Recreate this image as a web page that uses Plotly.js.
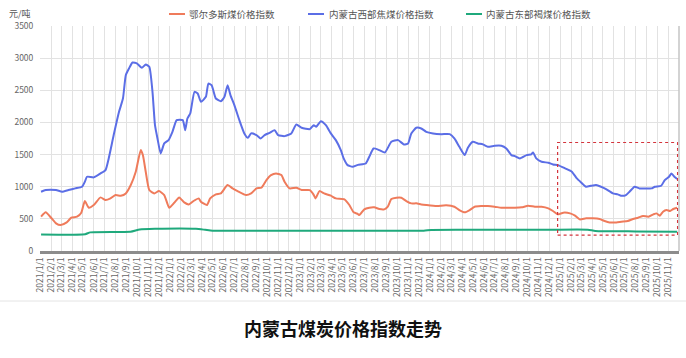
<!DOCTYPE html>
<html>
<head>
<meta charset="utf-8">
<script src="https://cdn.plot.ly/plotly-3.0.1.min.js"></script>
<style>html,body{margin:0;padding:0;background:#fff;}#chart{width:686px;height:358px;}</style>
</head>
<body>
<div id="chart"></div>
<script>
const seriesNames = ['鄂尔多斯煤价格指数', '内蒙古西部焦煤价格指数', '内蒙古东部褐煤价格指数'];
const unitLabel = '元/吨';
const chartTitle = '内蒙古煤炭价格指数走势';

const tickLabels = ['2021/1/1','2021/2/1','2021/3/1','2021/4/1','2021/5/1','2021/6/1','2021/7/1','2021/8/1','2021/9/1','2021/10/1','2021/11/1','2021/12/1',
'2022/1/1','2022/2/1','2022/3/1','2022/4/1','2022/5/1','2022/6/1','2022/7/1','2022/8/1','2022/9/1','2022/10/1','2022/11/1','2022/12/1',
'2023/1/1','2023/2/1','2023/3/1','2023/4/1','2023/5/1','2023/6/1','2023/7/1','2023/8/1','2023/9/1','2023/10/1','2023/11/1','2023/12/1',
'2024/1/1','2024/2/1','2024/3/1','2024/4/1','2024/5/1','2024/6/1','2024/7/1','2024/8/1','2024/9/1','2024/10/1','2024/11/1','2024/12/1',
'2025/1/1','2025/2/1','2025/3/1','2025/4/1','2025/5/1','2025/6/1','2025/7/1','2025/8/1','2025/9/1','2025/10/1','2025/11/1'];

// 内蒙古西部焦煤价格指数
const westDates = ['2021-01-04','2021-01-17','2021-02-15','2021-03-04','2021-03-22','2021-04-10','2021-04-29','2021-05-07','2021-05-13','2021-06-01','2021-06-20','2021-07-04','2021-07-13','2021-07-27','2021-08-11','2021-08-22','2021-08-30','2021-09-08','2021-09-18','2021-10-01','2021-10-14','2021-10-25','2021-11-04','2021-11-13','2021-11-20','2021-11-27','2021-12-06','2021-12-16','2021-12-28',
'2022-01-08','2022-01-20','2022-02-06','2022-02-13','2022-02-19','2022-02-27','2022-03-11','2022-03-20','2022-03-29','2022-04-12','2022-04-19','2022-04-28','2022-05-10','2022-05-24','2022-06-03','2022-06-12','2022-06-20','2022-07-01','2022-07-15','2022-07-29','2022-08-08','2022-08-17','2022-09-01','2022-09-13','2022-09-24','2022-10-08','2022-10-22','2022-11-01','2022-11-19','2022-12-08','2022-12-22',
'2023-01-06','2023-01-29','2023-02-09','2023-02-16','2023-03-01','2023-03-15','2023-03-29','2023-04-12','2023-04-26','2023-05-04','2023-05-15','2023-05-29','2023-06-13','2023-07-05','2023-07-15','2023-07-27','2023-08-12','2023-08-28','2023-09-15','2023-10-04','2023-10-20','2023-11-01','2023-11-10','2023-11-24','2023-12-08','2023-12-22',
'2024-01-10','2024-02-03','2024-02-26','2024-03-10','2024-03-24','2024-04-08','2024-04-17','2024-05-01','2024-05-15','2024-05-29','2024-06-12','2024-07-01','2024-07-20','2024-08-03','2024-08-17','2024-08-27','2024-09-10','2024-09-29','2024-10-12','2024-10-17','2024-10-26','2024-11-10','2024-11-29','2024-12-12','2024-12-26',
'2025-01-15','2025-02-03','2025-02-17','2025-03-01','2025-03-15','2025-03-29','2025-04-12','2025-04-26','2025-05-10','2025-05-29','2025-06-12','2025-06-21','2025-07-05','2025-07-15','2025-07-29','2025-08-12','2025-09-01','2025-09-15','2025-09-24','2025-10-12','2025-10-22','2025-11-03','2025-11-10','2025-11-18','2025-11-26'];
const westValues = [922,948,948,922,948,974,1000,1077,1155,1145,1207,1259,1440,1803,2165,2372,2735,2839,2932,2916,2849,2901,2865,2476,1958,1751,1518,1673,1725,
1854,2036,2036,1880,2061,2139,2476,2450,2320,2398,2605,2580,2372,2331,2398,2580,2424,2269,2036,1829,1761,1829,1803,1751,1803,1839,1880,1803,1787,1829,1968,
1917,1896,1958,1932,2020,1958,1829,1725,1570,1440,1336,1311,1340,1362,1466,1595,1570,1533,1699,1725,1658,1673,1829,1917,1906,1854,
1829,1818,1818,1751,1621,1492,1606,1699,1673,1658,1621,1637,1637,1595,1492,1476,1440,1492,1502,1533,1440,1388,1373,1347,1336,
1285,1233,1129,1067,1000,1015,1026,1000,963,896,881,860,870,922,1000,974,974,974,1000,1015,1103,1155,1207,1155,1119];

// 鄂尔多斯煤价格指数
const ordosDates = ['2021-01-04','2021-01-17','2021-02-01','2021-02-15','2021-02-28','2021-03-17','2021-03-30','2021-04-15','2021-04-27','2021-05-07','2021-05-18','2021-06-01','2021-06-20','2021-07-04','2021-07-18','2021-08-01','2021-08-16','2021-08-30','2021-09-13','2021-09-27','2021-10-11','2021-10-17','2021-10-25','2021-11-04','2021-11-18','2021-12-01','2021-12-16','2021-12-30',
'2022-01-13','2022-01-27','2022-02-10','2022-02-23','2022-03-08','2022-03-23','2022-03-29','2022-04-15','2022-04-24','2022-05-10','2022-05-24','2022-06-12','2022-06-26','2022-07-10','2022-08-03','2022-08-17','2022-09-01','2022-09-15','2022-09-29','2022-10-12','2022-10-26','2022-11-10','2022-11-19','2022-12-03','2022-12-22',
'2023-01-06','2023-01-29','2023-02-08','2023-02-14','2023-02-25','2023-03-10','2023-03-29','2023-04-12','2023-05-06','2023-05-20','2023-06-01','2023-06-13','2023-06-17','2023-07-01','2023-07-15','2023-07-29','2023-08-12','2023-08-26','2023-09-05','2023-09-15','2023-09-29','2023-10-13','2023-10-27','2023-11-10','2023-11-24','2023-12-08','2023-12-22',
'2024-01-20','2024-02-16','2024-03-10','2024-03-24','2024-04-08','2024-04-22','2024-05-06','2024-05-24','2024-06-12','2024-07-01','2024-07-20','2024-08-08','2024-08-27','2024-09-15','2024-10-03','2024-10-22','2024-11-10','2024-11-29','2024-12-12','2024-12-25',
'2025-01-10','2025-01-29','2025-02-12','2025-02-25','2025-03-15','2025-04-03','2025-04-22','2025-05-06','2025-05-20','2025-06-08','2025-06-22','2025-07-10','2025-07-25','2025-08-08','2025-08-22','2025-09-06','2025-09-20','2025-09-29','2025-10-08','2025-10-17','2025-10-27','2025-11-06','2025-11-15','2025-11-26'];
const ordosValues = [534,601,518,430,404,445,518,534,596,777,673,715,834,793,818,870,860,896,1026,1233,1570,1492,1233,948,896,932,870,673,
751,834,756,725,777,818,767,715,818,881,896,1026,974,932,870,896,974,984,1103,1181,1207,1181,1077,974,984,
948,948,881,818,932,896,860,818,803,715,601,575,559,648,673,679,653,648,689,808,829,829,777,741,741,725,715,
699,710,689,637,601,637,689,699,699,689,673,673,673,679,704,689,689,663,622,570,
596,585,549,492,508,508,497,466,445,445,456,466,497,518,544,534,570,585,549,611,637,622,653,673];

// 内蒙古东部褐煤价格指数
const eastDates = ['2021-01-04','2021-05-08','2021-05-22','2021-09-12','2021-10-08','2021-11-20','2022-03-15','2022-04-10','2022-05-01','2022-12-01','2023-06-01','2023-12-15','2024-01-05','2024-06-01','2024-12-01','2025-03-20','2025-04-10','2025-08-01','2025-11-26'];
const eastValues = [255,262,290,300,335,345,345,330,316,316,316,316,328,330,331,331,312,305,300];

const highlightX = ['2024-12-25', '2025-11-27'];
const highlightY = [248, 1688];

const colors = ['#ef7b5b', '#5b6ee6', '#1fa97c'];
const FONT = 'Noto Sans CJK SC, Noto Sans, sans-serif';

const xs = [ordosDates, westDates, eastDates];
const ys = [ordosValues, westValues, eastValues];
const traces = seriesNames.map((n, i) => ({
  type: 'scatter', mode: 'lines', name: n, x: xs[i], y: ys[i],
  line: {color: colors[i], width: 2, shape: 'spline', smoothing: 0.5},
  showlegend: false, hoverinfo: 'x+y+name'
}));

const plotL = 40, plotR = 679, plotT = 26, plotB = 251;
const pw = plotR - plotL, ph = plotB - plotT;
const px = v => (v - plotL) / pw;
const py = v => (plotB - v) / ph;

// custom legend
const legendLines = [[169,185],[308,324],[466,482]];
const legendText = [187, 327, 484];
const legendY = 14;
const shapes = [];
const annotations = [];
seriesNames.forEach((n, i) => {
  shapes.push({type: 'line', xref: 'paper', yref: 'paper', x0: px(legendLines[i][0]), x1: px(legendLines[i][1]), y0: py(legendY), y1: py(legendY), line: {color: colors[i], width: 2}});
  annotations.push({xref: 'paper', yref: 'paper', x: px(legendText[i]), y: py(legendY), xanchor: 'left', yanchor: 'middle', text: n, showarrow: false, font: {family: FONT, size: 9.5, color: '#555'}});
});
annotations.push({xref: 'paper', yref: 'paper', x: px(7), y: py(13), xanchor: 'left', yanchor: 'middle', text: unitLabel, showarrow: false, font: {family: FONT, size: 9, color: '#555'}});

shapes.push({type: 'rect', xref: 'x', yref: 'y', x0: highlightX[0], x1: highlightX[1], y0: highlightY[0], y1: highlightY[1], line: {color: '#d4343c', width: 1.2, dash: 'dot'}, fillcolor: 'rgba(0,0,0,0)'});
shapes.push({type: 'line', xref: 'paper', yref: 'paper', x0: 1, x1: 1, y0: 0, y1: 1, line: {color: '#c4c4c4', width: 1.5}});
shapes.push({type: 'line', xref: 'paper', yref: 'paper', x0: px(0), x1: px(686), y0: py(301), y1: py(301), line: {color: '#e4e4e4', width: 1}});

const layout = {
  width: 686, height: 358,
  margin: {l: plotL, r: 686 - plotR, t: plotT, b: 358 - plotB},
  paper_bgcolor: '#fff', plot_bgcolor: '#fff',
  font: {family: FONT, color: '#666'},
  title: {text: chartTitle, xref: 'container', yref: 'container', x: 0.5, y: 1 - 330/358, xanchor: 'center', yanchor: 'middle',
          font: {family: FONT, size: 18, color: '#111', weight: 'bold'}},
  xaxis: {type: 'date', range: ['2021-01-01', '2025-12-01'],
          tickmode: 'array', tickvals: tickLabels.map(s => s.replace(/\//g, '-')), ticktext: tickLabels,
          tickangle: -90, tickfont: {family: FONT, size: 8.5, color: '#666'},
          showgrid: true, gridcolor: '#e2e2e2', gridwidth: 1,
          showline: true, linecolor: '#8c8c8c', linewidth: 3, ticks: '', zeroline: false, fixedrange: true},
  yaxis: {range: [0, 3500], dtick: 500, tick0: 0, tickfont: {family: FONT, size: 8.5, color: '#666'},
          showgrid: true, gridcolor: '#e2e2e2', gridwidth: 1, zeroline: false,
          ticks: 'outside', ticklen: 4, tickcolor: 'rgba(0,0,0,0)', showline: false, fixedrange: true},
  shapes: shapes, annotations: annotations, showlegend: false
};

Plotly.newPlot('chart', traces, layout, {displayModeBar: false, staticPlot: true});
</script>
</body>
</html>
